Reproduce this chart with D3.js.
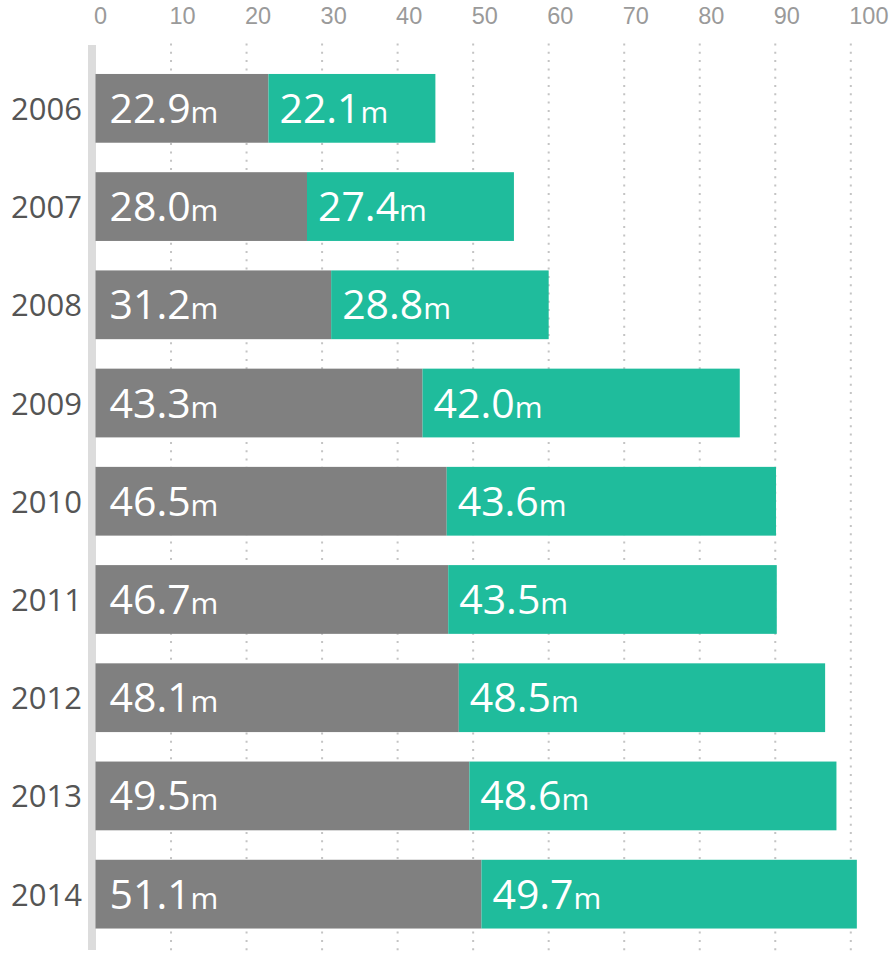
<!DOCTYPE html>
<html>
<head>
<meta charset="utf-8">
<script src="https://cdn.jsdelivr.net/npm/d3@7"></script>
<style>
  html, body { margin: 0; padding: 0; background: #fff; }
  svg { display: block; font-family: "Open Sans", "Noto Sans", sans-serif; }
</style>
</head>
<body>
<svg id="chart" width="892" height="954"></svg>
<script>
const years = ["2006", "2007", "2008", "2009", "2010", "2011", "2012", "2013", "2014"];
const greyValues = [22.9, 28.0, 31.2, 43.3, 46.5, 46.7, 48.1, 49.5, 51.1];
const greenValues = [22.1, 27.4, 28.8, 42.0, 43.6, 43.5, 48.5, 48.6, 49.7];
const tickValues = [0, 10, 20, 30, 40, 50, 60, 70, 80, 90, 100];

const data = years.map((y, i) => ({ year: y, grey: greyValues[i], green: greenValues[i] }));

const svg = d3.select("#chart");
const x = d3.scaleLinear().domain([0, 100]).range([95.5, 850.8]);
const y = d3.scaleBand().domain(years).range([44.5, 958]).paddingInner(0.3).paddingOuter(0.3);

// gridlines
svg.append("g").selectAll("line")
  .data(tickValues.filter(d => d > 0))
  .join("line")
  .attr("x1", d => x(d)).attr("x2", d => x(d))
  .attr("y1", 43.5).attr("y2", 954)
  .attr("stroke", "#c4c4c4")
  .attr("stroke-width", 2)
  .attr("stroke-dasharray", "2,6.3");

// tick labels
svg.append("g").selectAll("text")
  .data(tickValues)
  .join("text")
  .attr("x", d => x(d) - 1.5)
  .attr("y", 24)
  .attr("text-anchor", "start")
  .attr("font-family", "'Liberation Sans', Arial, sans-serif")
  .attr("font-size", 23.5)
  .attr("fill", "#9a9a9a")
  .text(d => d);

// left axis bar
svg.append("rect")
  .attr("x", 88).attr("y", 45)
  .attr("width", 8).attr("height", 905)
  .attr("fill", "#dcdcdc");

const rows = svg.append("g").selectAll("g")
  .data(data)
  .join("g");

rows.append("rect")
  .attr("x", x(0))
  .attr("y", d => y(d.year))
  .attr("width", d => x(d.grey) - x(0))
  .attr("height", y.bandwidth())
  .attr("fill", "#808080");

rows.append("rect")
  .attr("x", d => x(d.grey))
  .attr("y", d => y(d.year))
  .attr("width", d => x(d.grey + d.green) - x(d.grey))
  .attr("height", y.bandwidth())
  .attr("fill", "#1fbc9c");

rows.append("text")
  .attr("x", 82)
  .attr("y", d => y(d.year) + y.bandwidth() / 2 + 11.5)
  .attr("text-anchor", "end")
  .attr("font-size", 31)
  .attr("fill", "#555")
  .text(d => d.year);

const fmt = d3.format(".1f");
function addLabel(sel, key, xPos) {
  const t = sel.append("text")
    .attr("x", xPos)
    .attr("y", d => y(d.year) + y.bandwidth() / 2 + 14.5)
    .attr("fill", "#fff");
  t.append("tspan").attr("font-size", 41).text(d => fmt(d[key]));
  t.append("tspan").attr("font-size", 30).text("m");
}
addLabel(rows, "grey", d => x(0) + 14);
addLabel(rows, "green", d => x(d.grey) + 11);
</script>
</body>
</html>
